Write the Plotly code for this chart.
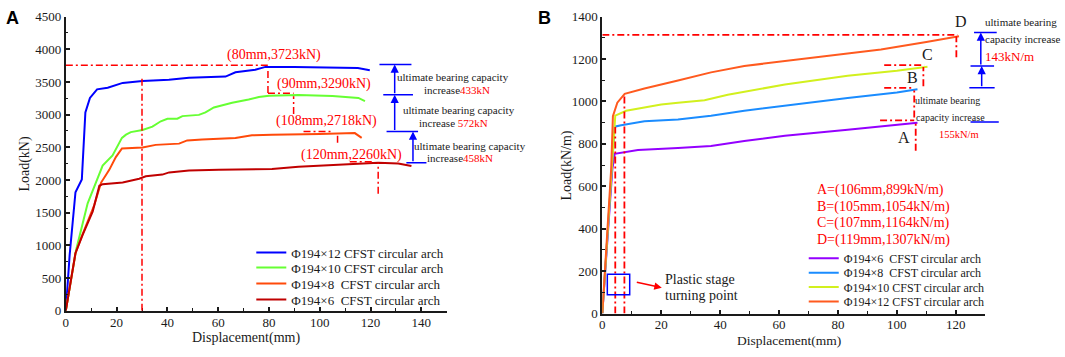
import plotly.graph_objects as go

W, H = 1065, 357
SERIF = "Liberation Serif"
SANS = "Liberation Sans"
RED = "#FF0000"
BLUE = "#0000FF"
INK = "#1a1a1a"

# ---------------- Panel A data (Displacement mm, Load kN) ----------------
A_names = ["Φ194×12 CFST circular arch", "Φ194×10 CFST circular arch",
           "Φ194×8\u00a0\u00a0CFST circular arch", "Φ194×6\u00a0\u00a0CFST circular arch"]
A_colors = ["#0000FF", "#66FF33", "#FF4A0A", "#C00000"]

A12_disp = [0, 1.5, 3.8, 6.3, 7.7, 9.5, 12.3, 16.5, 22.4, 30.2, 40.6, 48.5, 62.9, 66.8, 74.6, 78.6, 90, 105, 115, 119.7]
A12_load = [0, 850, 1812, 2008, 3035, 3255, 3387, 3412, 3485, 3514, 3534, 3563, 3582, 3647, 3686, 3730, 3730, 3725, 3712, 3680]

A10_disp = [0, 4, 8.6, 14.5, 18.4, 22.1, 23.7, 25.6, 30.2, 34.1, 37.4, 40, 43.9, 45.9, 52.4, 55, 58.3, 65.5, 72, 76, 80, 91.6, 105, 115.2, 117.8]
A10_load = [0, 920, 1642, 2220, 2375, 2644, 2693, 2732, 2766, 2815, 2898, 2937, 2937, 2977, 2996, 3035, 3109, 3182, 3230, 3270, 3290, 3299, 3285, 3255, 3207]

A8_disp = [0, 3.8, 6.7, 11.2, 13.9, 17.1, 19.7, 22.1, 30.2, 35.4, 44.6, 47.8, 53.7, 66.8, 73.3, 81.2, 100, 113.8, 116.5]
A8_load = [0, 880, 1178, 1617, 1960, 2155, 2350, 2482, 2497, 2537, 2556, 2605, 2620, 2644, 2683, 2693, 2705, 2717, 2644]

A6_disp = [0, 3.8, 6.5, 10.6, 13.2, 14.5, 22.4, 25.6, 28.9, 31.5, 38, 40.7, 48.5, 60.3, 81.2, 91.6, 105, 123, 130.9, 136.1]
A6_load = [0, 880, 1150, 1520, 1911, 1935, 1960, 1984, 2019, 2057, 2082, 2116, 2145, 2155, 2168, 2204, 2225, 2262, 2253, 2214]

A_peak_labels = ["(80mm,3723kN)", "(90mm,3290kN)", "(108mm,2718kN)", "(120mm,2260kN)"]
A_peak_label_x = [82, 101.8, 102.5, 112.5]
A_peak_label_y = [3915, 3475, 2903, 2375]

# guide lines (dash-dot): horizontal (y, x0, x1) and vertical (x, y0, y1)
A_guide_h = [(3754, 0, 79.6), (3328, 79.6, 89.7), (2742, 93.6, 104.7), (2277, 111.8, 121.6)]
A_guide_v = [(30, 0, 3560), (79.6, 3330, 3670), (89.7, 3010, 3280), (107, 2570, 2717), (123, 1789, 2262)]

# capacity-increase brackets
A_bars = [(3768, 123.5, 136.1), (3304, 125.0, 136.7), (2742, 126.3, 138.7), (2262, 134.1, 142.0)]
A_arrows = [(129.5, 3304, 3768), (129.5, 2742, 3304), (136.7, 2262, 2742)]
A_increase = ["433kN", "572kN", "458kN"]
A_inc_text = [
    ("ultimate bearing capacity", 130.2, 3578),
    ("increase<span style='color:#FF0000'>" + A_increase[0] + "</span>", 140.8, 3372),
    ("ultimate bearing capacity", 132.2, 3065),
    ("increase <span style='color:#FF0000'>" + A_increase[1] + "</span>", 138.8, 2874),
    ("ultimate bearing capacity", 136.9, 2522),
    ("increase<span style='color:#FF0000'>" + A_increase[2] + "</span>", 142.0, 2331),
]

# ---------------- Panel B data (Displacement mm, Load kN/m) ----------------
B_names = ["Φ194×6\u00a0\u00a0CFST circular arch", "Φ194×8\u00a0\u00a0CFST circular arch",
           "Φ194×10 CFST circular arch", "Φ194×12 CFST circular arch"]
B_colors = ["#9400FF", "#1A8CFF", "#D2F01E", "#FF5A1F"]

B6_disp = [0, 3.4, 4.2, 7.6, 12.1, 25.7, 36.9, 48.2, 62, 83.3, 100, 107]
B6_load = [0, 680, 753, 760, 771, 780, 790, 813, 838, 866, 888, 900]

B8_disp = [0, 3.2, 4.2, 6.4, 14.3, 25.7, 36.9, 48.2, 62, 83.3, 100, 107]
B8_load = [0, 690, 881, 888, 906, 915, 933, 956, 980, 1016, 1042, 1057]

B10_disp = [0, 3.1, 4.4, 8.1, 14.3, 20, 25.7, 34.7, 42.6, 53.9, 62, 83.3, 100, 110.4]
B10_load = [0, 690, 933, 956, 971, 986, 994, 1006, 1031, 1061, 1080, 1121, 1145, 1164]

B12_disp = [0, 3.0, 3.6, 5.1, 7.6, 14.3, 25.7, 36.9, 48.2, 62, 80, 94.6, 110, 121.1]
B12_load = [0, 680, 930, 994, 1036, 1061, 1099, 1137, 1167, 1190, 1219, 1245, 1280, 1307]

B_point_text = ["A=(106mm,899kN/m)", "B=(105mm,1054kN/m)", "C=(107mm,1164kN/m)", "D=(119mm,1307kN/m)"]
B_point_text_y = [583, 503, 425, 346]
B_letters = ["D", "C", "B", "A"]
B_letter_x = [121.7, 110.4, 105.3, 102.5]
B_letter_y = [1378, 1220, 1111, 828]

B_guide_h = [(1314, 0, 120.6), (1171, 95.7, 109.3), (1064, 95.7, 105.3), (911, 94.3, 105.9)]
B_guide_v = [(120.2, 1208, 1307), (7.5, 0, 1036), (4.4, 0, 880), (109, 1072, 1162), (105.9, 924, 1051), (106.4, 768, 900)]

B_bars = [(1325, 125.7, 133.9), (1167, 124.5, 133.0), (1065, 124.1, 133.2), (903, 124.5, 134.6)]
B_arrows = [(128.5, 1167, 1325), (128.8, 1065, 1167), (130.5, 903, 1065)]
B_increase = ["143kN/m", "110kN/m", "155kN/m"]
B_inc_text = [
    ("ultimate bearing", 129.5, 1373, 11, INK),
    ("capacity increase", 129.5, 1292, 11, INK),
    (B_increase[0], 129.5, 1210, 13, RED),
    ("ultimate bearing", 132.4, 1129, 10, INK),
    ("capacity increase", 132.4, 1047, 10, INK),
    (B_increase[1], 132.4, 967, 10.5, RED),
    ("ultimate bearing", 105.8, 1006, 10, INK),
    ("capacity increase", 106.1, 926, 10, INK),
    (B_increase[2], 113.8, 846, 10.5, RED),
]
B_box = (1.7, 9.3, 89, 185)

# ---------------- figure ----------------
fig = go.Figure()

A_series = [(A12_disp, A12_load), (A10_disp, A10_load), (A8_disp, A8_load), (A6_disp, A6_load)]
B_series = [(B6_disp, B6_load), (B8_disp, B8_load), (B10_disp, B10_load), (B12_disp, B12_load)]

for i, ((x, y), name, col) in enumerate(zip(A_series, A_names, A_colors)):
    fig.add_trace(go.Scatter(x=x, y=y, mode="lines", name=name, line=dict(color=col, width=2),
                             xaxis="x", yaxis="y", legend="legend" if i == 0 else f"legend{i+1}"))
for i, ((x, y), name, col) in enumerate(zip(B_series, B_names, B_colors)):
    fig.add_trace(go.Scatter(x=x, y=y, mode="lines", name=name, line=dict(color=col, width=2),
                             xaxis="x2", yaxis="y2", legend=f"legend{i+5}"))

DASH = "7px,3px,2px,3px"
shapes = []
for (y, x0, x1) in A_guide_h:
    shapes.append(dict(type="line", xref="x", yref="y", x0=x0, x1=x1, y0=y, y1=y,
                       line=dict(color=RED, width=1.5, dash=DASH)))
for (x, y0, y1) in A_guide_v:
    shapes.append(dict(type="line", xref="x", yref="y", x0=x, x1=x, y0=y0, y1=y1,
                       line=dict(color=RED, width=1.5, dash=DASH)))
for (y, x0, x1) in A_bars:
    shapes.append(dict(type="line", xref="x", yref="y", x0=x0, x1=x1, y0=y, y1=y,
                       line=dict(color=BLUE, width=1.5)))
for (y, x0, x1) in B_guide_h:
    shapes.append(dict(type="line", xref="x2", yref="y2", x0=x0, x1=x1, y0=y, y1=y,
                       line=dict(color=RED, width=1.8, dash=DASH)))
for (x, y0, y1) in B_guide_v:
    shapes.append(dict(type="line", xref="x2", yref="y2", x0=x, x1=x, y0=y0, y1=y1,
                       line=dict(color=RED, width=1.8, dash=DASH)))
shapes.append(dict(type="rect", xref="x2", yref="y2", x0=B_box[0], x1=B_box[1], y0=B_box[2], y1=B_box[3],
                   line=dict(color=BLUE, width=1.5)))

ann = []


def txt(x, y, text, xref, yref, size, color=INK, xanchor="center", family=SERIF, angle=0, bold=False):
    ann.append(dict(x=x, y=y, xref=xref, yref=yref, text=("<b>%s</b>" % text) if bold else text,
                    showarrow=False, xanchor=xanchor, yanchor="middle", textangle=angle,
                    font=dict(family=family, size=size, color=color), borderpad=0))


def arrow(xh, yh, xt, yt, xref, yref, color, head=2, width=1.5, size=1.0):
    ann.append(dict(x=xh, y=yh, ax=xt, ay=yt, xref=xref, yref=yref, axref=xref, ayref=yref,
                    text="", showarrow=True, arrowhead=head, arrowsize=size, arrowwidth=width,
                    arrowcolor=color, standoff=0, startstandoff=0))


for t, x, y in zip(A_peak_labels, A_peak_label_x, A_peak_label_y):
    txt(x, y, t, "x", "y", 14, RED)
for (x, y0, y1) in A_arrows:
    arrow(x, y1, x, y0, "x", "y", BLUE, head=2, size=1.1)
for (t, x, y) in A_inc_text:
    txt(x, y, t, "x", "y", 11, INK, xanchor="left")

for t, y in zip(B_point_text, B_point_text_y):
    txt(72.5, y, t, "x2", "y2", 14, RED, xanchor="left")
for t, x, y in zip(B_letters, B_letter_x, B_letter_y):
    txt(x, y, t, "x2", "y2", 16, INK)
for (y, x0, x1) in B_bars:
    arrow(x1, y, x0, y, "x2", "y2", BLUE, head=0, width=1.5)
for (x, y0, y1) in B_arrows:
    arrow(x, y1, x, y0, "x2", "y2", BLUE, head=2, size=1.1)
for (t, x, y, s, c) in B_inc_text:
    txt(x, y, t, "x2", "y2", s, c, xanchor="left")

txt(21.0, 162, "Plastic stage", "x2", "y2", 14, INK, xanchor="left")
txt(21.0, 86, "turning point", "x2", "y2", 14, INK, xanchor="left")
arrow(20.2, 122, 11.2, 149, "x2", "y2", RED, head=2, width=1.5, size=1.0)


# axis titles and panel letters (paper coords from pixel positions)
def px(xp, yp):
    return xp / W, 1 - yp / H


x_, y_ = px(22, 163.5); txt(x_, y_, "Load(kN)", "paper", "paper", 14, INK, angle=-90)
x_, y_ = px(244, 346); txt(x_, y_, "Displacement(mm)", "paper", "paper", 14, INK)
x_, y_ = px(566, 165); txt(x_, y_, "Load(kN/m)", "paper", "paper", 14, INK, angle=-90)
x_, y_ = px(788, 348.5); txt(x_, y_, "Displacement(mm)", "paper", "paper", 13.5, INK)
x_, y_ = px(9.5, 12); txt(x_, y_, "A", "paper", "paper", 18, "#000", family=SANS, bold=True)
x_, y_ = px(543.5, 11); txt(x_, y_, "B", "paper", "paper", 18, "#000", family=SANS, bold=True)

axis_common = dict(showline=True, linecolor=INK, linewidth=2, ticks="inside", ticklen=4, tickwidth=1.5,
                   tickcolor=INK, showgrid=False, zeroline=False, mirror=False,
                   tickfont=dict(family=SERIF, size=13, color=INK), tickmode="linear", tick0=0)

layout = dict(
    width=W, height=H, margin=dict(l=0, r=0, t=0, b=0),
    font=dict(family=SERIF, color=INK),
    paper_bgcolor="white", plot_bgcolor="white", showlegend=True,
    xaxis=dict(domain=[63 / W, 445 / W], range=[0, 150], dtick=20, anchor="y", ticklabelstandoff=-1,
               minor=dict(ticks="inside", dtick=10, ticklen=2.5, tickwidth=1.2, tickcolor=INK), **axis_common),
    yaxis=dict(domain=[1 - 317 / H, 1 - 10 / H], range=[0, 4500], dtick=500, anchor="x",
               minor=dict(ticks="inside", dtick=250, ticklen=2.5, tickwidth=1.2, tickcolor=INK), **axis_common),
    xaxis2=dict(domain=[601 / W, 985 / W], range=[0, 130], dtick=20, anchor="y2", ticklabelstandoff=-2,
                minor=dict(ticks="inside", dtick=10, ticklen=2.5, tickwidth=1.2, tickcolor=INK), **axis_common),
    yaxis2=dict(domain=[1 - 320 / H, 1 - 10 / H], range=[0, 1400], dtick=200, anchor="x2",
                minor=dict(ticks="inside", dtick=100, ticklen=2.5, tickwidth=1.2, tickcolor=INK), **axis_common),
    shapes=shapes, annotations=ann,
)

A_legend_rows = [256.3, 272, 288.7, 305.3]
B_legend_rows = [262.3, 277.3, 292.3, 307.3]
for i, row in enumerate(A_legend_rows):
    key = "legend" if i == 0 else f"legend{i+1}"
    layout[key] = dict(x=249 / W, y=1 - row / H, xanchor="left", yanchor="middle", bgcolor="rgba(0,0,0,0)",
                       borderwidth=0, itemwidth=30, font=dict(family=SERIF, size=13, color=INK))
for i, row in enumerate(B_legend_rows):
    key = f"legend{i+5}"
    layout[key] = dict(x=803 / W, y=1 - row / H, xanchor="left", yanchor="middle", bgcolor="rgba(0,0,0,0)",
                       borderwidth=0, itemwidth=30, font=dict(family=SERIF, size=12, color=INK))

fig.update_layout(**layout)
fig.write_html("out.html", config={"displayModeBar": False},
               post_script="document.body.style.margin='0px';")
